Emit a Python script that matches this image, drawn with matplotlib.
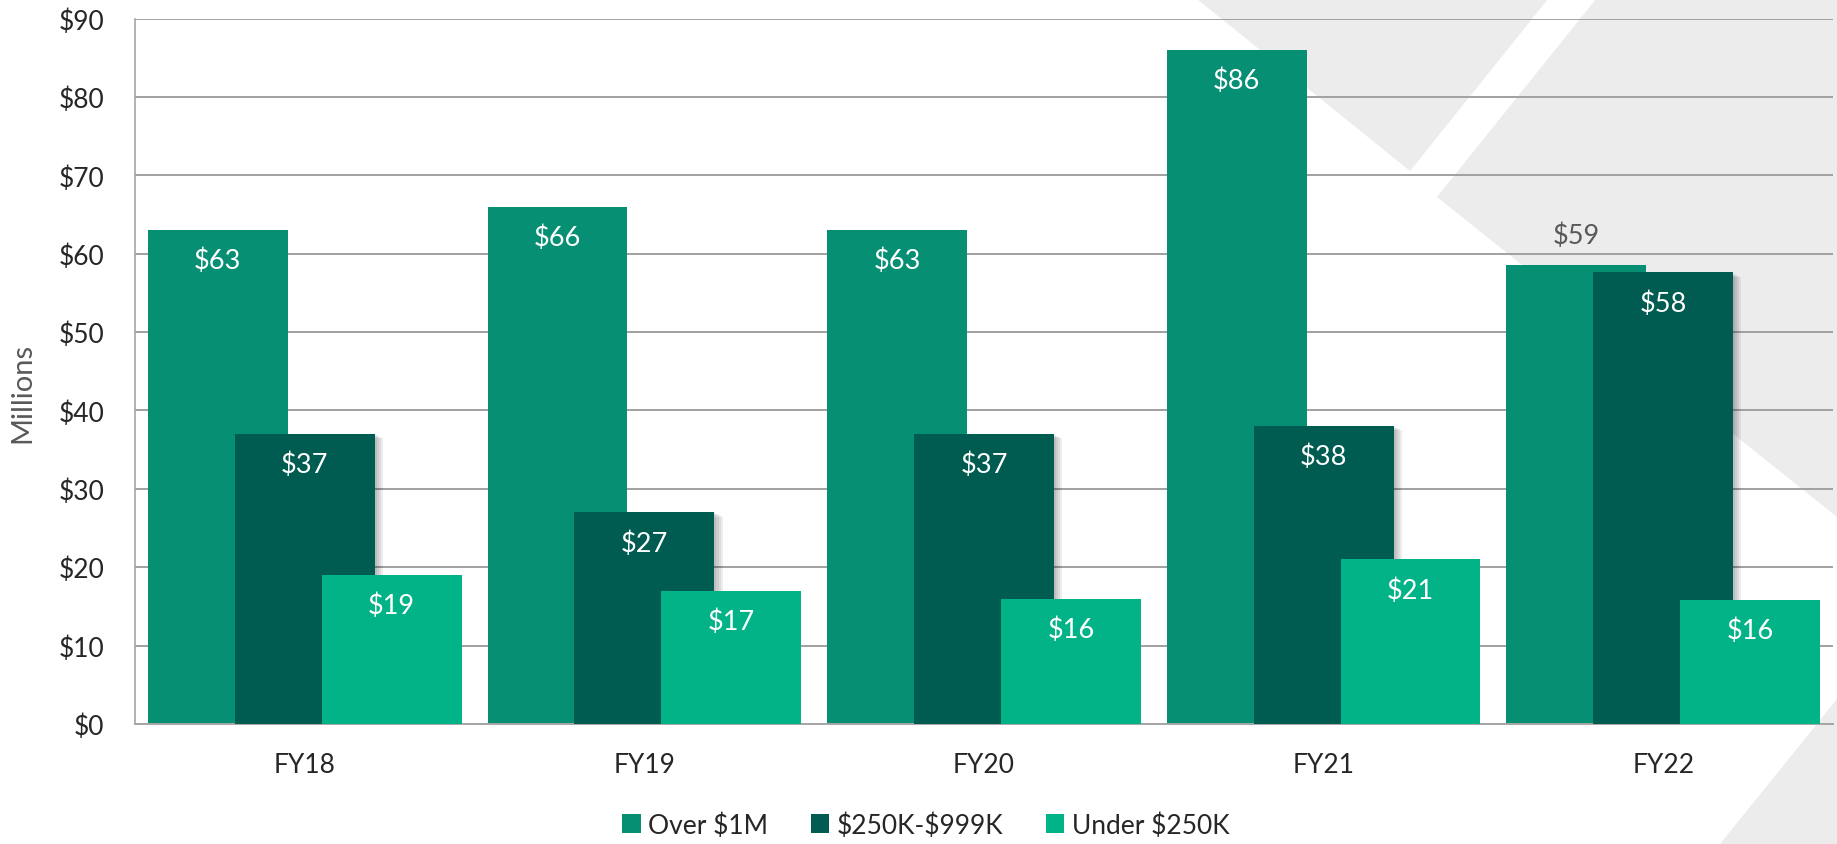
import matplotlib.pyplot as plt
import matplotlib.patheffects as pe
from matplotlib.patches import Polygon, Patch
import numpy as np

years = ['FY18', 'FY19', 'FY20', 'FY21', 'FY22']
series = ['Over \\$1M', '\\$250K-\\$999K', 'Under \\$250K']
over_1m = [63, 66, 63, 86, 58.6]
mid_250k = [37, 27, 37, 38, 57.6]
under_250k = [19, 17, 16, 21, 15.8]
yticks = [0, 10, 20, 30, 40, 50, 60, 70, 80, 90]

colors = ['#068f73', '#005c50', '#03b388']
font = 'Lato'
W, H = 1837, 845

fig = plt.figure(figsize=(W / 100, H / 100), dpi=100)
fig.patch.set_facecolor('white')

# grey background shapes (pixel coords from top-left)
bg = '#ececec'
shapes = [
    [(1197, 0), (1410, 172), (1548, 0)],
    [(1596, 0), (1837, 0), (1837, 518), (1437, 198)],
    [(1720, 845), (1837, 700), (1837, 845)],
]
for s in shapes:
    pts = [(x / W, 1 - y / H) for x, y in s]
    fig.patches.append(Polygon(pts, closed=True, facecolor=bg, edgecolor='none',
                               transform=fig.transFigure, zorder=-5))

ax = fig.add_axes([135 / W, 1 - 725 / H, 1698 / W, 705.5 / H])
ax.set_facecolor('none')

x = np.arange(len(years))
width = 0.412
offset = 0.256
shadow = [pe.SimplePatchShadow(offset=(o, -o * 0.5), shadow_rgbFace='black', alpha=0.07)
          for o in (1.5, 3, 4.5, 6)] + [pe.Normal()]

data = [over_1m, mid_250k, under_250k]
for i, vals in enumerate(data):
    bars = ax.bar(x + (i - 1) * offset, vals, width, color=colors[i], zorder=2 + i)
    if i == 1:
        for b in bars:
            b.set_path_effects(shadow)
    for j, b in enumerate(bars):
        v = vals[j]
        cx = b.get_x() + b.get_width() / 2
        if i == 0 and j == 4:
            ax.annotate(f'${v:.0f}', (cx, v), xytext=(0, 21), textcoords='offset points',
                        ha='center', va='center', color='#595959', fontsize=19.5,
                        family=font, zorder=10)
        else:
            ax.annotate(f'${v:.0f}', (cx, v), xytext=(0, -22), textcoords='offset points',
                        ha='center', va='center', color='white', fontsize=19.5,
                        family=font, zorder=10)

ax.set_xlim(-0.5, 4.5)
ax.set_ylim(0, 90)
ax.set_yticks(yticks)
ax.set_yticklabels([f'${t}' for t in yticks], family=font, fontsize=19, color='#262626')
ax.set_xticks(x)
ax.set_xticklabels(years, family=font, fontsize=19, color='#262626')
ax.tick_params(axis='both', length=0)
ax.tick_params(axis='y', pad=22)
ax.tick_params(axis='x', pad=20)
ax.set_axisbelow(True)
ax.grid(axis='y', color='#a0a0a0', linewidth=1.4, zorder=1)
for sp in ['top', 'right']:
    ax.spines[sp].set_visible(False)
ax.spines['left'].set_color('#a6a6a6')
ax.spines['left'].set_linewidth(1.2)
ax.spines['bottom'].set_color('#a6a6a6')
ax.spines['bottom'].set_linewidth(1.4)

fig.text(22 / W, 1 - 393 / H, 'Millions', rotation=90, ha='center', va='center',
         family=font, fontsize=21, color='#595959')

handles = [Patch(facecolor=c, edgecolor='none') for c in colors]
fig.legend(handles, series, loc='center', bbox_to_anchor=(926 / W, 1 - 826 / H),
           ncol=3, frameon=False, prop={'family': font, 'size': 19},
           handlelength=0.7, handleheight=0.7, handletextpad=0.3, columnspacing=1.6,
           labelcolor='#262626')

fig.savefig('out.png', dpi=100)
